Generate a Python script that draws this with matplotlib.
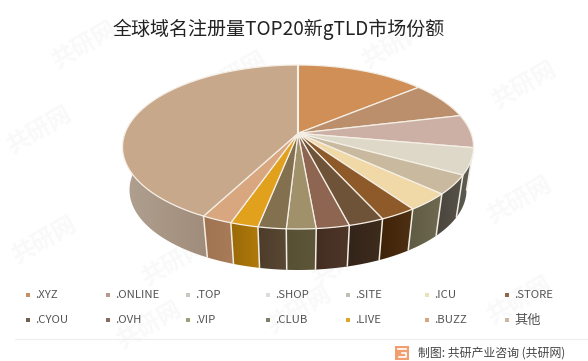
import numpy as np
import matplotlib
matplotlib.use('Agg')
import matplotlib.pyplot as plt
from matplotlib.colors import to_rgb
from matplotlib.patches import Polygon

plt.rcParams['font.family'] = ['Noto Sans CJK SC', 'DejaVu Sans']

# shares (%)
labels = ['.XYZ', '.ONLINE', '.TOP', '.SHOP', '.SITE', '.ICU', '.STORE',
          '.CYOU', '.OVH', '.VIP', '.CLUB', '.LIVE', '.BUZZ', '其他']
shares = [14.0, 7.3, 6.5, 5.2, 3.8, 3.5, 2.9, 2.8, 2.6, 2.3, 2.2, 2.2, 2.4, 42.3]

top_colours = ['#D08F56', '#BB8F6C', '#CDB0A5', '#DDD8C8', '#C9BA9F', '#F0D9A6', '#8F5A2A',
               '#6F5339', '#8D6551', '#A1916A', '#83704F', '#E2A11D', '#D9A77F', '#C8A88B']
# side wall gradient, left and right end of each slice
side_left = ['#777766', '#777766', '#6a6a5c', '#54544a', '#4a453c', '#5e5a44', '#3e2208',
             '#33241a', '#432d22', '#565034', '#4c3c2a', '#9a6a08', '#a07452', '#b0a090']
side_right = ['#777766', '#777766', '#6a6a5c', '#5f5f55', '#57534a', '#6f6a50', '#4f3013',
              '#3e2c1c', '#4f3629', '#5e5639', '#5a4833', '#b07a0c', '#a87c58', '#8f7662']
legend_colours = ['#C98F5C', '#B8988A', '#C8C8C0', '#DCDCD8', '#C0C0B0', '#EAE2B8', '#8F6A48',
                  '#6F5F4F', '#8A6A5A', '#9AA078', '#7F7F68', '#E2A52A', '#D3A784', '#CDB5A0']

title = '全球域名注册量TOP20新gTLD市场份额'
source = '制图: 共研产业咨询 (共研网)'

CX, CY, A, B = 298.0, 147.0, 175.5, 82.0   # top ellipse
CY2, A2, B2 = 190.0, 168.5, 80.0           # bottom ellipse
PERSP = 0.167


def circle_map(theta):
    # unit circle onto itself, centre pushed back a bit for the tilt
    x, y = np.sin(theta), np.cos(theta)
    d = 1 + PERSP * y
    return x * np.sqrt(1 - PERSP ** 2) / d, (y + PERSP) / d


def top_pt(theta):
    u, v = circle_map(theta)
    return CX + A * u, CY - B * v


def bottom_pt(theta):
    u, v = circle_map(theta)
    return CX + A2 * u, CY2 - B2 * v


fig = plt.figure(figsize=(5.88, 3.61), dpi=100)
ax = fig.add_axes([0, 0, 1, 1])

# faint watermarks
for wx, wy in [(85, 45), (235, 75), (395, 45), (525, 85), (40, 130), (520, 200), (45, 240),
               (175, 262), (345, 262), (520, 300), (150, 325), (300, 310)]:
    ax.text(wx, wy, '共研网', fontsize=17, color='#f9f9f9', rotation=30, ha='center', va='center',
            fontweight='bold', zorder=0)

bounds = np.deg2rad(np.concatenate([[0], np.cumsum(shares)]) * 3.6)

# side wall
for i in range(len(shares)):
    ts = np.linspace(bounds[i], bounds[i + 1], 80)
    xa, ya = top_pt(ts)
    xb, yb = bottom_pt(ts)
    xs = np.r_[xa, xb[::-1]]
    ys = np.r_[ya, yb[::-1]]
    grad = np.linspace(to_rgb(side_left[i]), to_rgb(side_right[i]), 64)[np.newaxis, :, :]
    im = ax.imshow(grad, extent=[xs.min(), xs.max(), ys.max(), ys.min()], aspect='auto', zorder=2)
    im.set_clip_path(Polygon(np.c_[xs, ys], closed=True, transform=ax.transData))

for t in bounds[3:14]:
    x1, y1 = top_pt(t)
    x2, y2 = bottom_pt(t)
    ax.plot([x1, x2], [y1, y2], color='#f3eee4', lw=1.1, zorder=3, solid_capstyle='butt')

# top face
for i in range(len(shares)):
    ts = np.linspace(bounds[i], bounds[i + 1], 80)
    xs, ys = top_pt(ts)
    ax.fill(np.r_[CX, xs], np.r_[CY - B * PERSP, ys], facecolor=top_colours[i],
            edgecolor='#f5efe6', lw=0.9, zorder=4, joinstyle='round')

# first divider is drawn heavier in the picture
x0, y0 = top_pt(0.0)
ax.plot([x0, CX], [y0, CY - B * PERSP], color='#f7f2ea', lw=1.5, zorder=5)

ax.text(278.5, 29, title, fontsize=13.7, color='#222222', ha='center', va='center', zorder=6)

# legend
leg_x = [28, 108, 188, 268, 348, 427, 507]
leg_y = [295, 320]
for i, (lab, col) in enumerate(zip(labels, legend_colours)):
    lx, ly = leg_x[i % 7], leg_y[i // 7]
    ax.scatter([lx], [ly], marker='s', s=12, color=col, linewidths=0, zorder=6)
    ax.text(lx + 7, ly, lab, fontsize=8.2 if i < 13 else 9.5, color='#555555', ha='left', va='center', zorder=6)

ax.plot([15, 588], [339, 339], color='#eeeeee', lw=0.8, zorder=1)

# logo
ax.fill([395, 409, 409, 395], [346, 346, 360, 360], color='#F0A070', lw=0, zorder=6)
ax.plot([398, 406], [349, 349], color='white', lw=1.2, zorder=7)
ax.plot([402, 406, 406, 399], [353, 353, 357, 357], color='white', lw=1.2, zorder=7)

ax.text(418, 353, source, fontsize=8.6, color='#444444', ha='left', va='center', zorder=6)

ax.set_xlim(0, 588)
ax.set_ylim(361, 0)
ax.axis('off')

fig.savefig('out.png', dpi=100)
